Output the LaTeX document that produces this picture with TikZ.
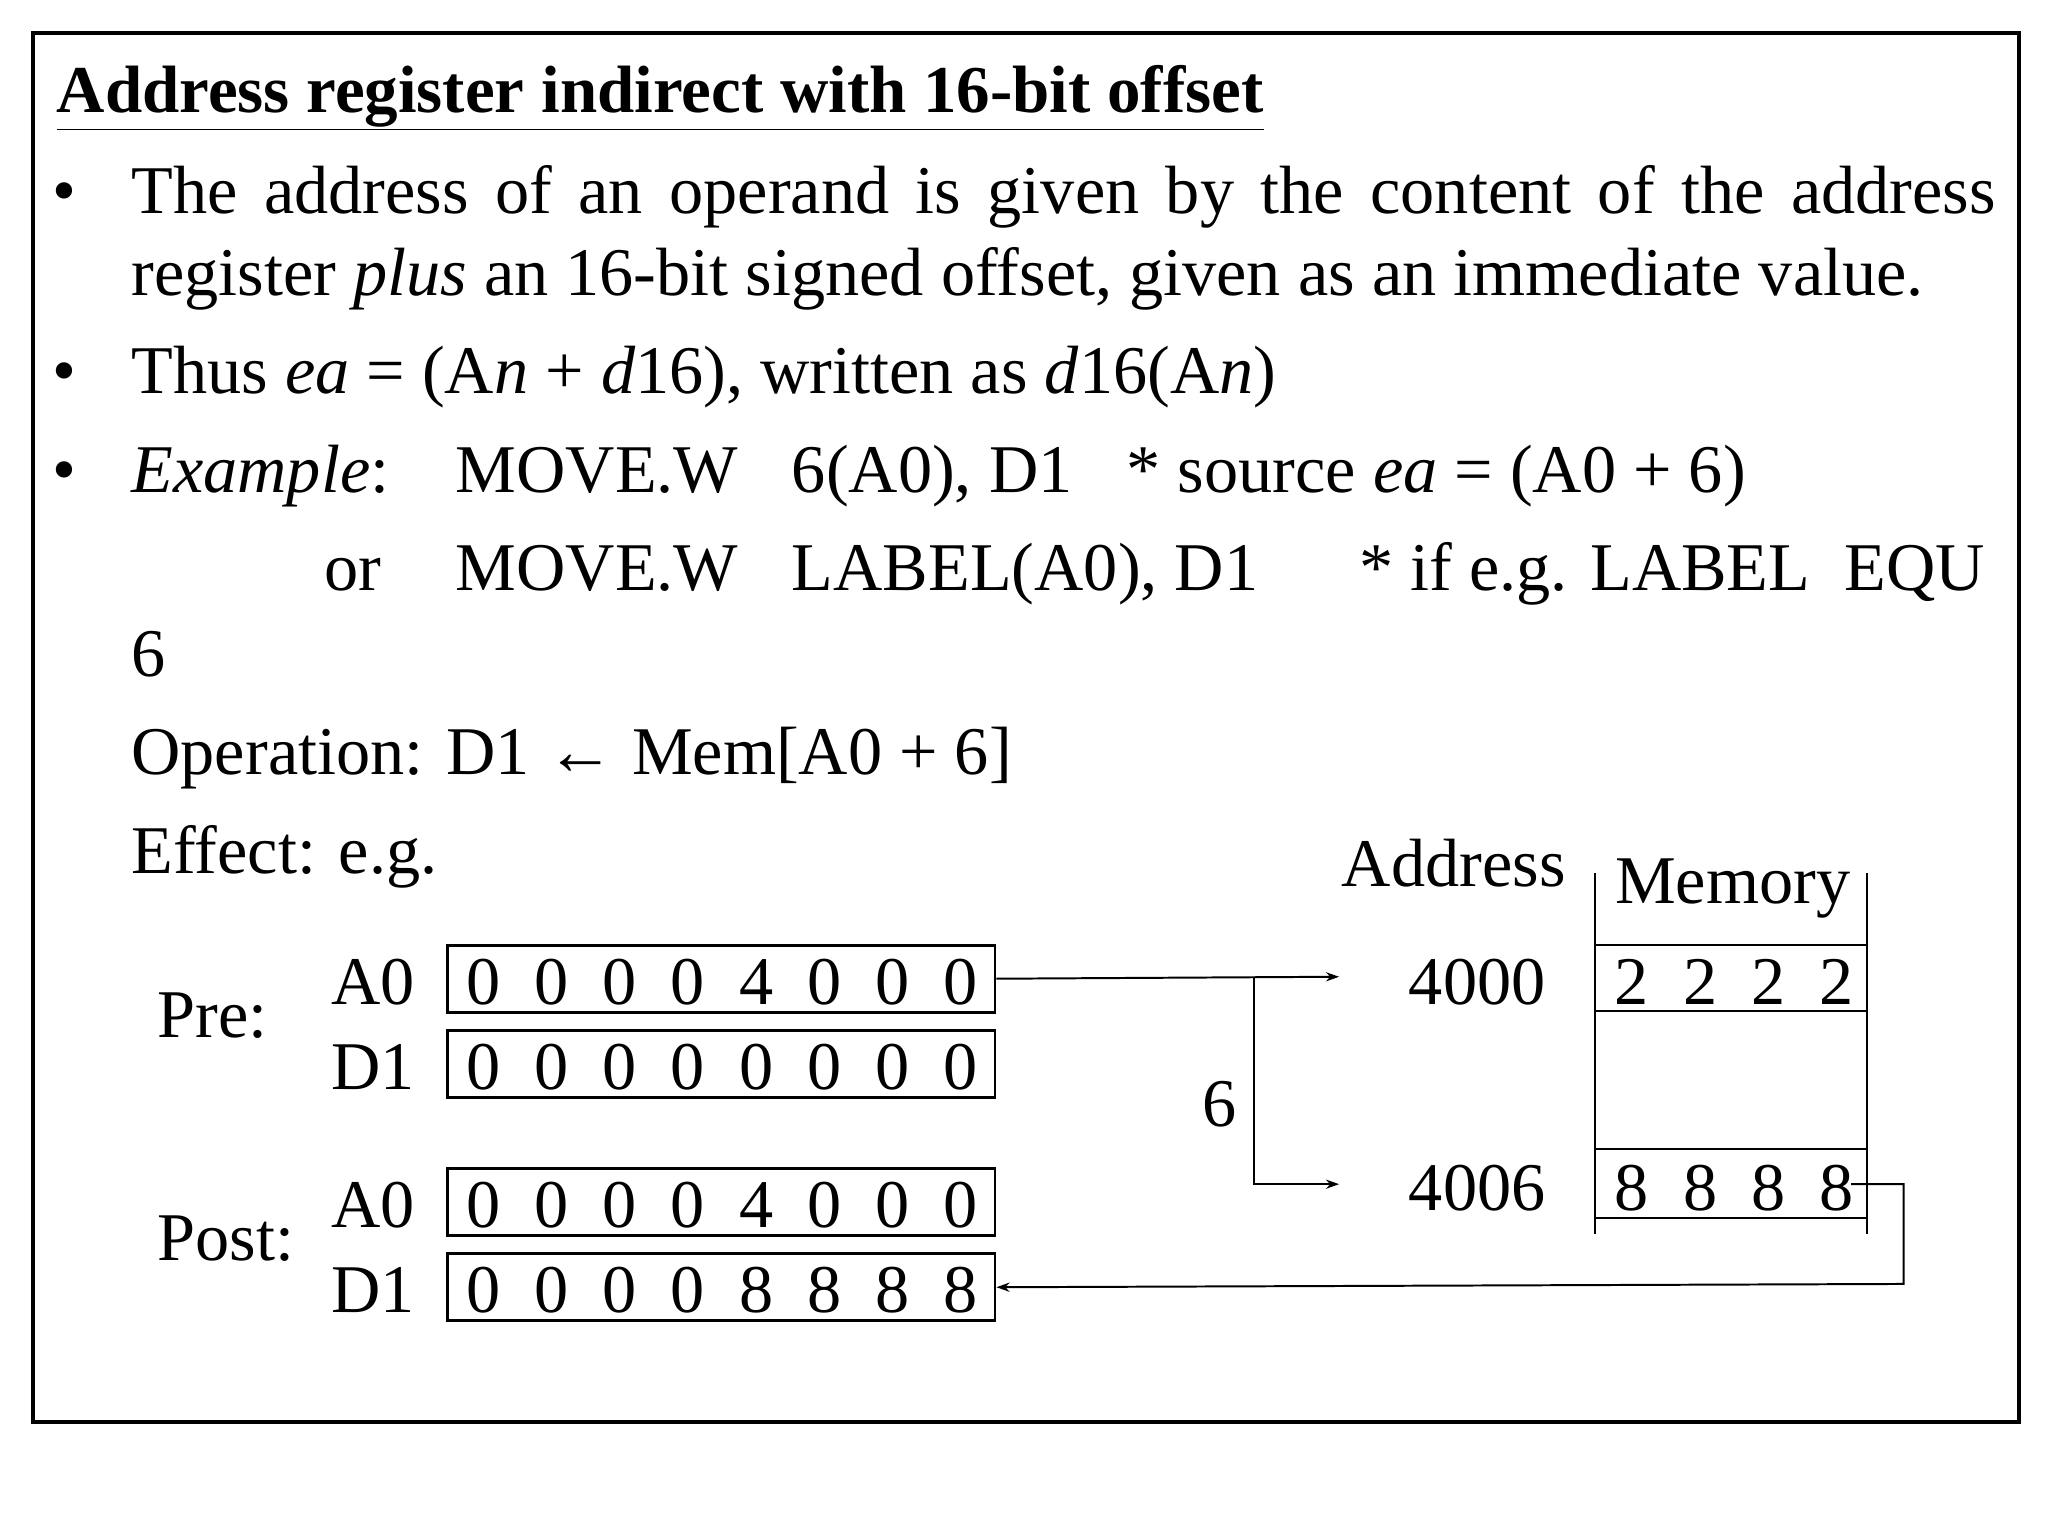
\documentclass[tikz,border=0pt]{standalone}
\usepackage{fontspec}
\setmainfont{Liberation Serif}
\usetikzlibrary{arrows.meta}
\begin{document}
\begin{tikzpicture}[x=1pt,y=-1pt,
  txt/.style={anchor=base west,inner sep=0pt,font=\fontsize{52}{58}\selectfont},
  reg/.style={draw,line width=2pt,minimum width=417pt,minimum height=51pt,anchor=north west,inner sep=0pt},
  dig/.style={anchor=base,inner sep=0pt,font=\fontsize{52}{58}\selectfont},
  conn/.style={line width=1.5pt,-{Stealth[length=10pt,width=7pt]}},
  ln/.style={line width=1.5pt}]
\useasboundingbox (0,0) rectangle (1560,1170);
\draw[line width=3.5pt] (25,25) rectangle (1538,1083);
\node[txt,font=\fontsize{51}{56}\selectfont\bfseries] (title) at (43,86) {\underline{Address register indirect with 16-bit offset}};
\foreach \y/\n in {163/b1,300/b2,375/b3}{\node[txt] (\n) at (40,\y) {•};}
\node[txt] (l1) at (100,163) {\makebox[1420pt][s]{The address of an operand is given by the content of the address}};
\node[txt] (l2) at (100,225) {register \textit{plus} an 16-bit signed offset, given as an immediate value.};
\node[txt] (l3) at (100,300) {Thus \textit{ea} = (A\textit{n} + \textit{d}16), written as \textit{d}16(A\textit{n})};
\node[txt] (e1) at (100,375) {\textit{Example}:};
\node[txt] (e2) at (347,375) {MOVE.W};
\node[txt] (e3) at (603,375) {6(A0), D1};
\node[txt] (e4) at (858,375) {* source \textit{ea} = (A0 + 6)};
\node[txt] (o1) at (247,450) {or};
\node[txt] (o2) at (347,450) {MOVE.W};
\node[txt] (o3) at (603,450) {LABEL(A0), D1};
\node[txt] (o4) at (1035,450) {* if e.g. LABEL\ \ EQU};
\node[txt] (six) at (100,515) {6};
\node[txt] (op) at (100,590) {Operation: D1 ← Mem[A0 + 6]};
\node[txt] (ef) at (100,665) {Effect: e.g.};
\node[txt] (addr) at (1022,675) {Address};
\node[txt] (mem) at (1230,688) {Memory};
% memory
\draw[ln] (1215,665) -- (1215,940) (1422,665) -- (1422,940);
\foreach \y in {720,770,875,928}{\draw[ln] (1215,\y) -- (1422,\y);}
\node[txt] (a4000) at (1073,765) {4000};
\node[txt] (a4006) at (1073,922) {4006};
\coordinate (m2) at (1410,902);
\foreach \i in {0,1,2,3}{\node[dig] at (1243+52*\i,765) {2};}
\foreach \i in {0,1,2,3}{\node[dig] at (1243+52*\i,922) {8};}
% registers
\node[txt] (pre) at (120,790) {Pre:};
\node[txt] (post) at (120,960) {Post:};
\foreach \y/\n/\lab/\digs in {719/ra/A0/{0,0,0,0,4,0,0,0},784/rb/D1/{0,0,0,0,0,0,0,0},889/rc/A0/{0,0,0,0,4,0,0,0},954/rd/D1/{0,0,0,0,8,8,8,8}}{
  \node[reg] (\n) at (340,\y) {};
  \node[txt] at (252,\y+46) {\lab};
  \foreach \d [count=\i from 0] in \digs {\node[dig] at (368+52*\i,\y+46) {\d};}
}
\coordinate (br) at (955,744);
\coordinate (bd) at (955,902);
\coordinate (t1) at (1020,744);
\coordinate (t2) at (1020,902);
\draw[conn] (ra.east) -- (t1);
\draw[conn] (br) -- (bd) -- (t2);
\node[txt] (off) at (916,858) {6};
\coordinate (c1) at (1450,902);
\coordinate (c2) at (1450,978);
\draw[conn] (m2) -- (c1) -- (c2) -- (rd.east);
\end{tikzpicture}
\end{document}
